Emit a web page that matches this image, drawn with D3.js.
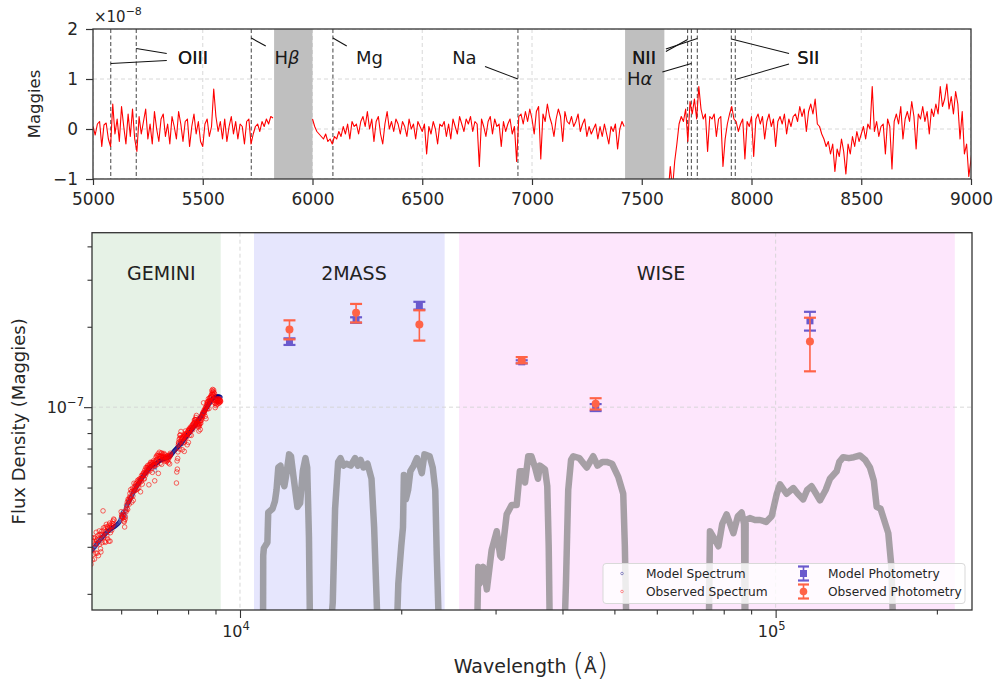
<!DOCTYPE html>
<html>
<head>
<meta charset="utf-8">
<script src="https://cdnjs.cloudflare.com/ajax/libs/d3/7.8.5/d3.min.js"></script>
<style>
  body { margin: 0; background: #fff; }
  svg text { font-family: "DejaVu Sans", sans-serif; }
</style>
</head>
<body>
<div id="chart"></div>
<script>
// ---------------- data ----------------
// spectrum wavelength grid (Angstrom)
var specWave = d3.range(5000, 9201, 10);

// model spectrum, units of 1e-8 maggies
var modelSpec = [
  2.60,2.62,2.61,2.64,2.65,2.64,2.67,2.66,2.68,2.70,
  2.71,2.70,2.73,2.74,2.73,2.76,2.77,2.76,2.75,2.79,
  2.80,2.82,2.81,2.84,2.85,2.87,2.86,2.88,2.90,2.91,
  2.93,2.95,2.94,2.97,2.99,3.00,2.99,3.02,3.04,3.05,
  3.07,3.09,3.08,3.11,3.13,3.15,3.14,3.17,3.19,3.20,
  3.22,3.24,3.23,3.26,3.27,3.29,3.28,3.31,3.32,3.34,
  3.35,3.37,3.36,3.39,3.40,3.42,3.41,3.43,3.44,3.45,
  3.47,3.48,3.45,3.49,3.50,3.51,3.51,3.52,3.53,3.54,
  3.55,3.56,3.56,3.57,3.58,3.59,3.59,3.61,3.62,3.63,
  3.64,3.65,3.66,3.68,3.69,3.71,3.72,3.75,3.78,3.82,
  3.86,3.90,3.94,3.98,4.02,4.05,4.06,4.00,3.92,3.86,
  3.95,4.08,4.16,4.21,4.25,4.28,4.31,4.34,4.37,4.40,
  4.40,4.43,4.46,4.50,4.53,4.56,4.59,4.62,4.66,4.69,
  4.72,4.75,4.78,4.81,4.84,4.87,4.89,4.92,4.95,4.98,
  5.01,5.04,5.06,5.09,5.12,5.14,5.17,5.19,5.22,5.25,
  5.27,5.30,5.32,5.35,5.37,5.40,5.42,5.45,5.47,5.50,
  5.52,5.54,5.57,5.59,5.61,5.63,5.66,5.68,5.70,5.72,
  5.75,5.77,5.79,5.81,5.83,5.85,5.87,5.89,5.91,5.93,
  5.95,5.97,5.99,6.00,6.02,6.04,6.05,6.07,6.08,6.10,
  6.11,6.12,6.08,5.95,5.80,5.98,6.12,6.15,6.16,6.18,
  6.19,6.21,6.22,6.23,6.25,6.26,6.27,6.28,6.30,6.31,
  6.32,6.33,6.34,6.35,6.36,6.37,6.38,6.38,6.39,6.40,
  6.40,6.41,6.42,6.42,6.43,6.43,6.44,6.44,6.45,6.45,
  6.46,6.46,6.47,6.47,6.48,6.49,6.50,6.51,6.52,6.53,
  6.55,6.57,6.59,6.61,6.63,6.66,6.68,6.70,6.72,6.75,
  6.77,6.80,6.82,6.84,6.86,6.88,6.90,6.92,6.94,6.96,
  6.98,7.00,7.02,7.04,7.06,7.08,7.10,7.12,7.14,7.16,
  7.18,7.22,7.30,7.36,7.28,7.24,7.26,7.30,7.32,7.34,
  7.38,7.41,7.44,7.47,7.50,7.53,7.56,7.58,7.61,7.64,
  7.66,7.69,7.71,7.74,7.76,7.78,7.81,7.83,7.86,7.88,
  7.91,7.93,7.96,7.98,8.01,8.03,8.06,8.09,8.11,8.14,
  8.16,8.19,8.22,8.24,8.27,8.30,8.33,8.35,8.38,8.41,
  8.44,8.47,8.50,8.53,8.56,8.59,8.62,8.65,8.68,8.71,
  8.74,8.77,8.80,8.84,8.87,8.90,8.93,8.96,8.99,9.02,
  9.05,9.09,9.12,9.15,9.18,9.21,9.25,9.28,9.31,9.34,
  9.37,9.40,9.44,9.47,9.50,9.53,9.57,9.60,9.63,9.66,
  9.70,9.74,9.77,9.81,9.85,9.89,9.92,9.96,10.00,10.04,
  10.08,10.12,10.16,10.20,10.24,10.28,10.32,10.36,10.40,10.44,
  10.48,10.52,10.55,10.58,10.61,10.64,10.67,10.70,10.72,10.75,
  10.77,10.79,10.81,10.83,10.85,10.86,10.88,10.89,10.90,10.91,
  10.92,10.93,10.94,10.94,10.95,10.95,10.95,10.96,10.96,10.96,
  10.96,10.95,10.95,10.94,10.94,10.93,10.92,10.92,10.91,10.90,
  10.90
];

// observed - model residual, units of 1e-8 maggies (null = masked)
var residual = [
  0.05,-0.12,0.10,0.15,-0.35,0.08,0.12,-0.20,-0.35,0.50,
  -0.10,0.20,-0.25,0.45,0.05,-0.30,0.30,-0.15,0.40,-0.20,
  -0.45,0.25,-0.10,0.15,0.40,-0.20,0.10,-0.30,0.35,0.00,
  -0.25,0.20,0.30,-0.15,0.10,-0.30,0.25,0.05,-0.20,0.35,
  0.10,-0.25,0.15,0.20,-0.35,0.05,0.30,-0.10,0.15,-0.25,
  -0.35,0.10,0.20,-0.15,0.05,0.80,0.25,-0.05,0.15,-0.20,
  0.20,-0.25,0.05,0.25,-0.10,0.15,-0.20,0.10,0.05,-0.30,
  0.15,0.20,-0.30,-0.10,0.05,0.10,-0.05,0.15,0.05,0.20,
  0.10,0.25,0.22,null,null,null,null,null,null,null,
  null,null,null,null,null,null,null,null,null,null,
  0.20,0.05,-0.05,-0.10,-0.15,-0.20,-0.10,-0.25,-0.20,-0.30,
  -0.15,-0.20,-0.05,-0.15,0.05,-0.10,0.10,-0.20,0.15,0.05,
  0.10,-0.10,0.15,0.25,0.05,0.35,0.00,0.20,-0.25,0.15,
  0.25,-0.10,-0.30,0.10,0.35,0.00,0.15,-0.05,0.20,0.10,
  -0.10,0.15,0.05,-0.15,0.20,0.00,0.10,-0.20,0.15,0.05,
  -0.05,0.10,-0.50,0.05,-0.10,0.15,0.00,-0.30,0.10,0.05,
  0.15,-0.15,0.10,-0.20,0.20,0.05,-0.10,0.25,0.10,-0.05,
  0.20,0.10,0.25,-0.05,0.15,0.10,-0.75,0.20,0.05,-0.15,
  0.15,0.25,-0.10,0.20,0.05,0.10,-0.35,0.15,-0.05,0.10,
  0.20,-0.10,0.05,-0.65,0.25,0.30,0.10,0.35,0.15,0.40,
  0.20,-0.10,0.35,0.45,-0.60,0.30,0.15,0.50,0.25,0.10,
  -0.15,0.20,0.40,0.25,-0.25,0.35,0.15,0.10,0.25,0.05,
  0.15,0.30,-0.05,0.10,0.20,-0.15,0.05,-0.10,0.00,0.10,
  -0.20,0.05,-0.15,0.10,-0.10,-0.30,0.05,-0.05,0.10,-0.40,
  0.00,0.15,0.05,null,null,null,null,null,null,null,
  null,null,null,null,null,null,null,null,null,null,
  null,-1.80,-1.30,-0.75,-1.20,-0.65,-0.30,0.10,0.25,0.15,
  0.40,-0.25,0.55,0.30,0.60,0.20,0.85,0.40,0.20,0.30,
  -0.45,0.25,0.20,0.30,-0.15,0.20,0.25,-0.75,-0.20,0.10,
  0.30,0.45,0.20,0.15,-0.05,0.10,0.20,-0.60,0.15,0.05,
  0.25,-0.55,0.20,0.30,0.10,0.25,-0.20,0.15,0.30,0.05,
  0.20,-0.35,0.15,0.25,0.10,0.30,-0.10,0.20,0.05,0.25,
  0.30,0.15,0.45,0.25,0.40,-0.05,0.35,0.50,0.30,0.60,
  0.10,0.05,-0.10,-0.20,-0.35,-0.25,-0.50,-0.30,-0.85,-0.40,
  -0.55,-0.20,-0.45,-0.90,-0.30,-0.50,-0.15,-0.35,-0.05,-0.25,
  -0.10,0.05,-0.20,0.10,0.00,0.85,-0.05,0.15,-0.15,0.05,
  0.10,-0.50,0.20,0.05,-0.80,0.15,0.30,0.10,0.45,-0.20,
  0.20,0.35,0.15,0.55,0.25,-0.40,0.30,0.20,0.45,0.15,
  0.35,-0.10,0.40,0.25,0.50,0.30,0.85,0.45,0.60,0.90,
  0.40,0.65,0.30,0.75,0.50,-0.20,0.35,-0.50,-0.30,-0.95,
  -0.60,-0.30,-0.80,-0.40,-0.55,-0.20,-0.70,-0.35,-0.45,-0.25,
  -0.50,-0.30,-0.60,-0.20,-0.40,-0.55,-0.35,-0.25,-0.45,-0.30,
  -0.40
];

// masked wavelength ranges and emission/absorption line positions
var maskRegions = [[5825, 6000], [7424, 7603]];
var lineWaves = [5081, 5197, 5721, 6093, 6936, 7709, 7726, 7753, 7908, 7926];

// photometry (flux in 1e-7 maggies)
var photBands = ["J", "H", "Ks", "W1", "W2", "W3"];
var photWave = [12370, 16470, 21620, 33570, 46130, 115900];
var obsPhot = [1.954, 2.255, 2.04, 1.50, 1.03, 1.762];
var obsErr = [0.16, 0.18, 0.265, 0.04, 0.05, 0.40];
var modelPhot = [1.76, 2.12, 2.40, 1.478, 0.997, 2.105];
var modelErr = [0.05, 0.05, 0.08, 0.02, 0.03, 0.17];

// survey wavelength ranges
var surveyNames = ["GEMINI", "2MASS", "WISE"];
var surveyRanges = [[5000, 9205], [10620, 24100], [25650, 216000]];

// filter transmission curves [wavelength, normalised transmission]
var filterJ = [[10800,0],[11040,0],[11050,0.45],[11080,0.49],[11250,0.52],[11290,0.68],[11500,0.70],[11620,0.74],[11700,0.80],[11790,0.92],[11900,0.93],[12000,0.85],[12100,0.82],[12200,0.88],[12350,0.99],[12450,0.98],[12600,0.86],[12800,0.71],[12950,0.73],[13100,0.90],[13250,0.97],[13350,0.92],[13450,0.55],[13520,0]];
var filterH = [[14700,0],[14900,0.2],[15050,0.7],[15250,0.95],[15400,0.97],[15600,0.93],[15800,0.94],[16100,0.93],[16400,0.97],[16600,0.93],[16800,0.96],[17000,0.92],[17300,0.94],[17600,0.86],[17800,0.6],[17950,0.3],[18100,0]];
var filterKs = [[19600,0],[19750,0.3],[20000,0.5],[20150,0.6],[20230,0.88],[20400,0.75],[20600,0.8],[20800,0.9],[21100,0.93],[21400,0.97],[21700,0.92],[21850,0.89],[22100,0.99],[22600,0.98],[22900,0.92],[23150,0.8],[23300,0.45],[23550,0]];
var filterW1 = [[27700,0],[27850,0.39],[28000,0.30],[28450,0.39],[28900,0.27],[29500,0.48],[30150,0.58],[30600,0.45],[30800,0.44],[31470,0.67],[32150,0.72],[32850,0.72],[33300,0.9],[33700,0.9],[34050,0.84],[34530,0.98],[35000,0.98],[35550,0.92],[36000,0.86],[36300,0.93],[37100,0.91],[37470,0.82],[37700,0.5],[37900,0]];
var filterW2 = [[40300,0],[40600,0.3],[41000,0.8],[41500,0.96],[41900,0.98],[43000,0.97],[44400,0.92],[45660,0.98],[46500,0.93],[47500,0.95],[48360,0.95],[49500,0.94],[50840,0.87],[51940,0.78],[52300,0.5],[52700,0]];
var filterW3 = [[75000,0],[75400,0.58],[76500,0.55],[78200,0.50],[79500,0.62],[81000,0.67],[82200,0.62],[83400,0.57],[85000,0.66],[86400,0.68],[87300,0.62],[87600,0],[87750,0],[87900,0.64],[89500,0.65],[91500,0.64],[93500,0.64],[96000,0.63],[98300,0.66],[100500,0.78],[101900,0.83],[104800,0.78],[107900,0.81],[110000,0.78],[112600,0.75],[114500,0.8],[116700,0.82],[119000,0.78],[121000,0.745],[124000,0.8],[126300,0.86],[130000,0.9],[131500,0.95],[133700,0.975],[137000,0.97],[140000,0.975],[143700,0.984],[147000,0.96],[150000,0.92],[152500,0.85],[154400,0.71],[157000,0.70],[162300,0.57],[164500,0.39],[166000,0]];
var filterCurves = [filterJ, filterH, filterKs, filterW1, filterW2, filterW3];

// ---------------- layout ----------------
var svgWidth = 998;
var svgHeight = 686;

var residBox = {left: 93, right: 971, top: 29, bottom: 179};
var sedBox = {left: 92, right: 972, top: 232.7, bottom: 610};

var svg = d3.select("#chart")
  .append("svg")
  .attr("width", svgWidth)
  .attr("height", svgHeight);

var defs = svg.append("defs");
defs.append("clipPath").attr("id", "clipTop")
  .append("rect")
  .attr("x", residBox.left).attr("y", residBox.top)
  .attr("width", residBox.right - residBox.left)
  .attr("height", residBox.bottom - residBox.top);
defs.append("clipPath").attr("id", "clipBot")
  .append("rect")
  .attr("x", sedBox.left).attr("y", sedBox.top)
  .attr("width", sedBox.right - sedBox.left)
  .attr("height", sedBox.bottom - sedBox.top);

var axisColor = "#333";
var gridColor = "#d4d4d4";

/********************************************************************************
							Residual panel (top)
*********************************************************************************/
var xTop = d3.scaleLinear().domain([5000, 9000]).range([residBox.left, residBox.right]);
var yTop = d3.scaleLinear().domain([-1, 2]).range([residBox.bottom, residBox.top]);

var topGroup = svg.append("g");
var topPlot = topGroup.append("g").attr("clip-path", "url(#clipTop)");

// grid
topPlot.selectAll(".vgrid")
  .data(d3.range(5000, 9001, 500))
  .enter().append("line")
  .attr("x1", d => xTop(d)).attr("x2", d => xTop(d))
  .attr("y1", residBox.top).attr("y2", residBox.bottom)
  .attr("stroke", gridColor).attr("stroke-dasharray", "4,3").attr("stroke-width", 0.9);
topPlot.selectAll(".hgrid")
  .data([-1, 0, 1, 2])
  .enter().append("line")
  .attr("x1", residBox.left).attr("x2", residBox.right)
  .attr("y1", d => yTop(d)).attr("y2", d => yTop(d))
  .attr("stroke", gridColor).attr("stroke-dasharray", "4,3").attr("stroke-width", 0.9);

// masked regions
topPlot.selectAll(".mask")
  .data(maskRegions)
  .enter().append("rect")
  .attr("x", d => xTop(d[0]))
  .attr("width", d => xTop(d[1]) - xTop(d[0]))
  .attr("y", residBox.top)
  .attr("height", residBox.bottom - residBox.top)
  .attr("fill", "#bfbfbf");

// line markers
topPlot.selectAll(".specline")
  .data(lineWaves)
  .enter().append("line")
  .attr("x1", d => xTop(d)).attr("x2", d => xTop(d))
  .attr("y1", residBox.top).attr("y2", residBox.bottom)
  .attr("stroke", "#444").attr("stroke-width", 1)
  .attr("stroke-dasharray", "4,2.5");

// residual line
var residLine = d3.line()
  .defined(d => d[1] !== null)
  .x(d => xTop(d[0]))
  .y(d => yTop(d[1]));
topPlot.append("path")
  .datum(specWave.map((w, i) => [w, residual[i]]))
  .attr("d", residLine)
  .attr("fill", "none")
  .attr("stroke", "#ff0000")
  .attr("stroke-width", 1.1)
  .attr("stroke-linejoin", "round");

// annotations (one text per connector, as the labels are drawn once per line)
var annotations = [
  {label: "OIII", x: 5456, y: 1.42, links: [[5336, 1.37, 5081, 1.31], [5336, 1.51, 5197, 1.61]]},
  {label: "H", greek: "β", x: 5884, y: 1.42, links: [[5787, 1.66, 5721, 1.82]]},
  {label: "Mg", x: 6260, y: 1.42, links: [[6156, 1.66, 6093, 1.82]]},
  {label: "Na", x: 6692, y: 1.42, links: [[6786, 1.25, 6936, 1.0]]},
  {label: "NII", x: 7510, y: 1.42, links: [[7610, 1.55, 7709, 1.79], [7610, 1.60, 7753, 1.81]]},
  {label: "H", greek: "α", x: 7491, y: 1.0, links: [[7594, 1.14, 7726, 1.31]]},
  {label: "SII", x: 8259, y: 1.42, links: [[8171, 1.51, 7908, 1.80], [8171, 1.30, 7926, 0.99]]}
];

annotations.forEach(function(a) {
  a.links.forEach(function(l) {
    topGroup.append("line")
      .attr("x1", xTop(l[0])).attr("y1", yTop(l[1]))
      .attr("x2", xTop(l[2])).attr("y2", yTop(l[3]))
      .attr("stroke", "#111").attr("stroke-width", 1.1);
    var t = topGroup.append("text")
      .attr("x", xTop(a.x))
      .attr("y", yTop(a.y))
      .attr("dy", "0.36em")
      .attr("text-anchor", "middle")
      .attr("font-size", 18)
      .attr("fill", "#1a1a1a")
      .text(a.label);
    if (a.greek) {
      t.append("tspan").attr("font-style", "italic").text(a.greek);
    }
  });
});

// axes
var xAxisTop = d3.axisBottom(xTop)
  .tickValues(d3.range(5000, 9001, 500))
  .tickFormat(d3.format("d"))
  .tickSize(6).tickPadding(8);
var gxTop = topGroup.append("g")
  .attr("transform", `translate(0, ${residBox.bottom})`)
  .call(xAxisTop);

var yAxisTop = d3.axisLeft(yTop)
  .tickValues([-1, 0, 1, 2])
  .tickFormat(d => d < 0 ? "\u2212" + Math.abs(d) : d)
  .tickSize(7).tickPadding(8);
var gyTop = topGroup.append("g")
  .attr("transform", `translate(${residBox.left}, 0)`)
  .call(yAxisTop);

[gxTop, gyTop].forEach(function(g) {
  g.select(".domain").remove();
  g.attr("font-family", "DejaVu Sans").attr("font-size", 17);
  g.selectAll("line").attr("stroke", axisColor).attr("stroke-width", 1.2);
  g.selectAll("text").attr("fill", "#262626");
});

// offset text
var off = topGroup.append("text")
  .attr("x", 94).attr("y", 22)
  .attr("font-size", 15).attr("fill", "#262626")
  .text("\u00d710");
off.append("tspan").attr("dy", -7).attr("font-size", 11).text("\u22128");

topGroup.append("text")
  .attr("transform", `translate(40, ${(residBox.top + residBox.bottom) / 2}) rotate(-90)`)
  .attr("text-anchor", "middle")
  .attr("font-size", 16.5)
  .attr("fill", "#262626")
  .text("Maggies");

topGroup.append("rect")
  .attr("x", residBox.left).attr("y", residBox.top)
  .attr("width", residBox.right - residBox.left)
  .attr("height", residBox.bottom - residBox.top)
  .attr("fill", "none").attr("stroke", axisColor).attr("stroke-width", 1.3);

/********************************************************************************
							SED panel (bottom)
*********************************************************************************/
var xBot = d3.scaleLog().domain([5293, 232600]).range([sedBox.left, sedBox.right]);
var yBot = d3.scaleLog().domain([1.74e-8, 4.5e-7]).range([sedBox.bottom, sedBox.top]);
var yTrans = d3.scaleLinear().domain([0, 1]).range([640, 452.5]);

var botGroup = svg.append("g");
var botPlot = botGroup.append("g").attr("clip-path", "url(#clipBot)");

var surveyColors = ["#e6f2e6", "#e6e6fd", "#fde6fc"];
botPlot.selectAll(".survey")
  .data(surveyRanges)
  .enter().append("rect")
  .attr("x", d => xBot(d[0]))
  .attr("width", d => xBot(d[1]) - xBot(d[0]))
  .attr("y", sedBox.top)
  .attr("height", sedBox.bottom - sedBox.top)
  .attr("fill", (d, i) => surveyColors[i]);

// grid
botPlot.selectAll(".vgrid")
  .data([1e4, 1e5])
  .enter().append("line")
  .attr("x1", d => xBot(d)).attr("x2", d => xBot(d))
  .attr("y1", sedBox.top).attr("y2", sedBox.bottom)
  .attr("stroke", gridColor).attr("stroke-dasharray", "4,3").attr("stroke-width", 0.9);
botPlot.append("line")
  .attr("x1", sedBox.left).attr("x2", sedBox.right)
  .attr("y1", yBot(1e-7)).attr("y2", yBot(1e-7))
  .attr("stroke", gridColor).attr("stroke-dasharray", "4,3").attr("stroke-width", 0.9);

// filter curves
var filterLine = d3.line()
  .x(d => xBot(d[0]))
  .y(d => yTrans(d[1]))
  .curve(d3.curveLinear);
botPlot.selectAll(".filter")
  .data(filterCurves)
  .enter().append("path")
  .attr("d", filterLine)
  .attr("fill", "none")
  .attr("stroke", "#808080")
  .attr("stroke-opacity", 0.7)
  .attr("stroke-width", 6.5)
  .attr("stroke-linejoin", "round")
  .attr("stroke-linecap", "round");

// survey labels
var surveyLabelWave = [7130, 16320, 61100];
botGroup.selectAll(".surveyLabel")
  .data(surveyNames)
  .enter().append("text")
  .attr("x", (d, i) => xBot(surveyLabelWave[i]))
  .attr("y", yBot(3.0e-7))
  .attr("text-anchor", "middle")
  .attr("font-family", "Lato, 'Noto Sans', sans-serif")
  .attr("font-size", 19)
  .attr("fill", "#222")
  .text(d => d);

// spectra
var specData = specWave.map((w, i) => ({
  w: w,
  model: modelSpec[i] * 1e-8,
  obs: residual[i] === null ? null : (modelSpec[i] + residual[i]) * 1e-8
}));

botPlot.selectAll(".modelSpec")
  .data(specData)
  .enter().append("circle")
  .attr("cx", d => xBot(d.w))
  .attr("cy", d => yBot(d.model))
  .attr("r", 1.9)
  .attr("fill", "none")
  .attr("stroke", "#000080")
  .attr("stroke-opacity", 0.35)
  .attr("stroke-width", 0.9);

botPlot.selectAll(".obsSpec")
  .data(specData.filter(d => d.obs !== null && d.obs > 0))
  .enter().append("circle")
  .attr("cx", d => xBot(d.w))
  .attr("cy", d => yBot(d.obs))
  .attr("r", 2.3)
  .attr("fill", "none")
  .attr("stroke", "#ff0000")
  .attr("stroke-opacity", 0.6)
  .attr("stroke-width", 1);

// photometry
function drawErrorbars(vals, errs, color, shape) {
  var g = botPlot.append("g");
  photWave.forEach(function(w, i) {
    var x = xBot(w);
    var y0 = yBot((vals[i] - errs[i]) * 1e-7);
    var y1 = yBot((vals[i] + errs[i]) * 1e-7);
    g.append("line").attr("x1", x).attr("x2", x).attr("y1", y0).attr("y2", y1)
      .attr("stroke", color).attr("stroke-width", 1.6);
    [y0, y1].forEach(function(yc) {
      g.append("line").attr("x1", x - 6).attr("x2", x + 6).attr("y1", yc).attr("y2", yc)
        .attr("stroke", color).attr("stroke-width", 2.2);
    });
    var y = yBot(vals[i] * 1e-7);
    if (shape === "square") {
      g.append("rect").attr("x", x - 3.5).attr("y", y - 3.5).attr("width", 7).attr("height", 7)
        .attr("fill", color);
    } else {
      g.append("circle").attr("cx", x).attr("cy", y).attr("r", 4).attr("fill", color);
    }
  });
}
drawErrorbars(modelPhot, modelErr, "#6a5acd", "square");
drawErrorbars(obsPhot, obsErr, "#ff6347", "circle");

// axes
var xAxisBot = d3.axisBottom(xBot).tickValues([1e4, 1e5]).tickFormat("").tickSize(8).tickPadding(7);
var xMinorBot = d3.axisBottom(xBot)
  .tickValues([6000, 7000, 8000, 9000, 20000, 30000, 40000, 50000, 60000, 70000, 80000, 90000, 200000])
  .tickFormat("").tickSize(4.5);
var yAxisBot = d3.axisLeft(yBot).tickValues([1e-7]).tickFormat("").tickSize(8);
var yMinorBot = d3.axisLeft(yBot)
  .tickValues([2e-8, 3e-8, 4e-8, 5e-8, 6e-8, 7e-8, 8e-8, 9e-8, 2e-7, 3e-7, 4e-7])
  .tickFormat("").tickSize(4.5);

var gxBot = botGroup.append("g").attr("transform", `translate(0, ${sedBox.bottom})`).call(xAxisBot);
var gxBotMinor = botGroup.append("g").attr("transform", `translate(0, ${sedBox.bottom})`).call(xMinorBot);
var gyBot = botGroup.append("g").attr("transform", `translate(${sedBox.left}, 0)`).call(yAxisBot);
var gyBotMinor = botGroup.append("g").attr("transform", `translate(${sedBox.left}, 0)`).call(yMinorBot);
[gxBot, gxBotMinor, gyBot, gyBotMinor].forEach(function(g) {
  g.select(".domain").remove();
  g.selectAll("line").attr("stroke", axisColor).attr("stroke-width", 1.1);
});

// power-of-ten labels
[[1e4, "4"], [1e5, "5"]].forEach(function(t) {
  var lab = botGroup.append("text")
    .attr("x", xBot(t[0]) - 4).attr("y", 637)
    .attr("text-anchor", "middle")
    .attr("font-size", 16).attr("fill", "#262626")
    .text("10");
  lab.append("tspan").attr("dy", -7).attr("font-size", 11.5).text(t[1]);
});
var ylab = botGroup.append("text")
  .attr("x", 84).attr("y", yBot(1e-7) + 6)
  .attr("text-anchor", "end")
  .attr("font-size", 16).attr("fill", "#262626")
  .text("10");
ylab.append("tspan").attr("dy", -7).attr("font-size", 11.5).text("\u22127");

// axis titles
botGroup.append("text")
  .attr("transform", `translate(25, ${(sedBox.top + sedBox.bottom) / 2}) rotate(-90)`)
  .attr("text-anchor", "middle")
  .attr("font-family", "Lato, 'Noto Sans', sans-serif")
  .attr("font-size", 18)
  .attr("fill", "#262626")
  .text("Flux Density (Maggies)");

var xt = botGroup.append("text")
  .attr("x", 531).attr("y", 673)
  .attr("text-anchor", "middle")
  .attr("font-family", "Lato, 'Noto Sans', sans-serif")
  .attr("font-size", 19)
  .attr("fill", "#262626")
  .text("Wavelength ");
xt.append("tspan").attr("font-family", "DejaVu Sans").attr("font-size", 30).attr("font-weight", 200).attr("dy", 2).text("(");
xt.append("tspan").attr("font-family", "DejaVu Sans").attr("font-size", 18).attr("dy", -2).text("\u00c5");
xt.append("tspan").attr("font-family", "DejaVu Sans").attr("font-size", 30).attr("font-weight", 200).attr("dy", 2).text(")");

// legend
var legend = botGroup.append("g");
legend.append("rect")
  .attr("x", 603).attr("y", 563.5).attr("width", 362).attr("height", 40).attr("rx", 3)
  .attr("fill", "#fff").attr("fill-opacity", 0.8)
  .attr("stroke", "#d9d9d9").attr("stroke-width", 1);

var legendFont = "Lato, 'Noto Sans', sans-serif";
var legendItems = [
  {label: "Model Spectrum", x: 622, y: 573.5, kind: "dot", color: "#000080"},
  {label: "Observed Spectrum", x: 622, y: 591.5, kind: "dot", color: "#ff0000"},
  {label: "Model Photometry", x: 803.5, y: 573.5, kind: "square", color: "#6a5acd"},
  {label: "Observed Photometry", x: 803.5, y: 591.5, kind: "circle", color: "#ff6347"}
];
legendItems.forEach(function(it) {
  if (it.kind === "dot") {
    legend.append("circle").attr("cx", it.x).attr("cy", it.y).attr("r", 1.3)
      .attr("fill", "none").attr("stroke", it.color).attr("stroke-opacity", 0.5).attr("stroke-width", 0.8);
  } else {
    legend.append("line").attr("x1", it.x).attr("x2", it.x).attr("y1", it.y - 7).attr("y2", it.y + 7)
      .attr("stroke", it.color).attr("stroke-width", 1.6);
    [it.y - 7, it.y + 7].forEach(function(yc) {
      legend.append("line").attr("x1", it.x - 5.5).attr("x2", it.x + 5.5).attr("y1", yc).attr("y2", yc)
        .attr("stroke", it.color).attr("stroke-width", 2.2);
    });
    if (it.kind === "square") {
      legend.append("rect").attr("x", it.x - 3.5).attr("y", it.y - 3.5).attr("width", 7).attr("height", 7).attr("fill", it.color);
    } else {
      legend.append("circle").attr("cx", it.x).attr("cy", it.y).attr("r", 3.8).attr("fill", it.color);
    }
  }
  legend.append("text")
    .attr("x", it.kind === "dot" ? 646 : 828)
    .attr("y", it.y)
    .attr("dy", "0.35em")
    .attr("font-family", legendFont)
    .attr("font-size", 12.2)
    .attr("fill", "#262626")
    .text(it.label);
});

botGroup.append("rect")
  .attr("x", sedBox.left).attr("y", sedBox.top)
  .attr("width", sedBox.right - sedBox.left)
  .attr("height", sedBox.bottom - sedBox.top)
  .attr("fill", "none").attr("stroke", axisColor).attr("stroke-width", 1.3);
</script>
</body>
</html>
